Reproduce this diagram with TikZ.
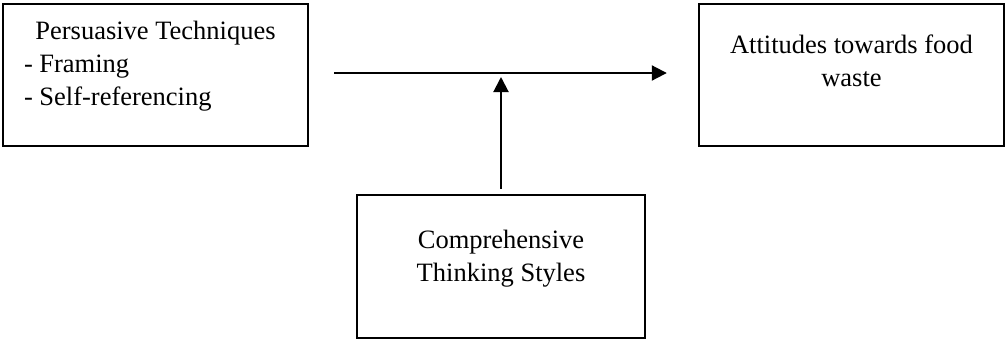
\documentclass[tikz,border=0pt]{standalone}
\usepackage{fontspec}
\setmainfont{Liberation Serif}
\usetikzlibrary{arrows.meta}

\tikzset{
  box/.style={draw, line width=2.4pt, inner sep=0pt, minimum height=142pt},
  arr/.style={line width=2pt, -{Triangle[length=15pt,width=15pt]}},
}

\begin{document}
\begin{tikzpicture}[x=1pt,y=-1pt]
  \fontsize{26.5}{33}\selectfont
  \useasboundingbox (0,0) rectangle (1006,341);
  % the three boxes
  \node[box, minimum width=305pt] (persuasion) at (155.5,75)
    {\parbox[c][142pt][t]{305pt}{\vspace*{17pt}%
      {\centering Persuasive Techniques\par}%
      {\raggedright\leftskip=21pt\relax - Framing\\- Self-referencing\par}}};
  \node[box, minimum width=305pt] (attitudes) at (851.5,75)
    {\parbox[c][142pt][t]{305pt}{\vspace*{31pt}\centering
      Attitudes towards food\\waste}};
  \node[box, minimum width=288pt, minimum height=143pt] (thinking) at (501,266.5)
    {\parbox[c][143pt][t]{288pt}{\vspace*{35pt}\centering
      Comprehensive\\Thinking Styles}};
  % arrows
  \draw[arr, shorten <=25pt, shorten >=31pt]
    ([yshift=2pt]persuasion.east) -- ([yshift=2pt]attitudes.west);
  \draw[arr, shorten <=5pt, shorten >=2pt]
    (thinking.north) -- (thinking.north |- persuasion.east);
\end{tikzpicture}
\end{document}
